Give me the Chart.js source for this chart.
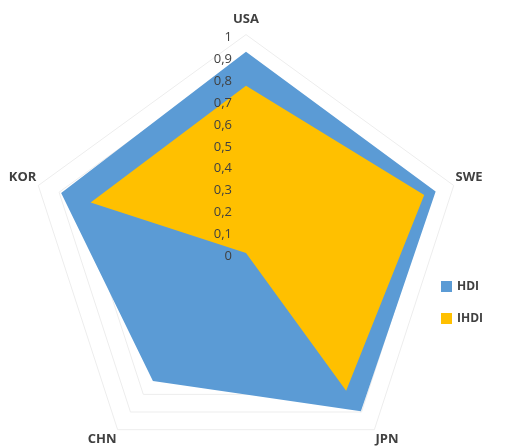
<!DOCTYPE html>
<html>
<head>
<meta charset="utf-8">
<script src="https://cdn.jsdelivr.net/npm/chart.js@4"></script>
<style>
  html, body { margin: 0; padding: 0; background: #fff; overflow: hidden; }
  /* canvas runs a little below the window so the lower labels sit beside the corners */
  #wrap { width: 507px; height: 484px; }
</style>
</head>
<body>
<div id="wrap"><canvas id="chart-radar"></canvas></div>
<script>
var countries = ["USA", "SWE", "JPN", "CHN", "KOR"];
var hdi = [0.922, 0.913, 0.895, 0.725, 0.89];
var ihdi = [0.766, 0.858, 0.78, 0, 0.748];
var seriesNames = ["HDI", "IHDI"];
var seriesColors = ["#5b9bd5", "#ffc000"];

var fontFamily = "'Open Sans', 'Liberation Sans', sans-serif";

function fmt(v) {
  return String(Math.round(v * 10) / 10).replace(".", ",");
}

// tick numbers sit left of the vertical axis, right aligned, above the fills
var tickLabels = {
  id: "tickLabels",
  afterDatasetsDraw: function (chart) {
    var scale = chart.scales.r;
    var c = chart.ctx;
    c.save();
    c.font = "13px " + fontFamily;
    c.fillStyle = "#404040";
    c.textAlign = "right";
    c.textBaseline = "middle";
    scale.ticks.forEach(function (t) {
      var y = scale.yCenter - scale.getDistanceFromCenterForValue(t.value);
      c.fillText(fmt(t.value), scale.xCenter - 14, y + 3);
    });
    c.restore();
  }
};

// legend on the right, stacked with wide spacing
var sideLegend = {
  id: "sideLegend",
  afterDraw: function (chart) {
    var c = chart.ctx;
    c.save();
    c.font = "bold 12px " + fontFamily;
    c.textBaseline = "middle";
    c.textAlign = "left";
    seriesNames.forEach(function (name, i) {
      var y = 286 + i * 32;
      c.fillStyle = seriesColors[i];
      c.fillRect(441, y - 5, 11, 11);
      c.fillStyle = "#404040";
      c.fillText(name, 457, y + 1);
    });
    c.restore();
  }
};

var ctx = document.getElementById("chart-radar").getContext("2d");

new Chart(ctx, {
  type: "radar",
  data: {
    labels: countries,
    datasets: [
      {
        label: seriesNames[0],
        data: hdi,
        backgroundColor: seriesColors[0],
        borderWidth: 0,
        pointRadius: 0,
        fill: true,
        order: 1
      },
      {
        label: seriesNames[1],
        data: ihdi,
        backgroundColor: seriesColors[1],
        borderWidth: 0,
        pointRadius: 0,
        fill: true,
        order: 0
      }
    ]
  },
  options: {
    responsive: true,
    maintainAspectRatio: false,
    animation: false,
    layout: {
      padding: { top: 0, right: 17, bottom: 0, left: 2 }
    },
    plugins: {
      legend: { display: false },
      tooltip: { enabled: false }
    },
    scales: {
      r: {
        min: 0,
        max: 1,
        ticks: {
          stepSize: 0.1,
          display: false
        },
        grid: {
          color: "#ededed",
          lineWidth: 1
        },
        angleLines: {
          display: false
        },
        pointLabels: {
          color: "#404040",
          padding: function (c) {
            return c.index === 0 ? 8 : 2;
          },
          font: { size: 13, weight: "bold", family: fontFamily }
        }
      }
    }
  },
  plugins: [tickLabels, sideLegend]
});
</script>
</body>
</html>
